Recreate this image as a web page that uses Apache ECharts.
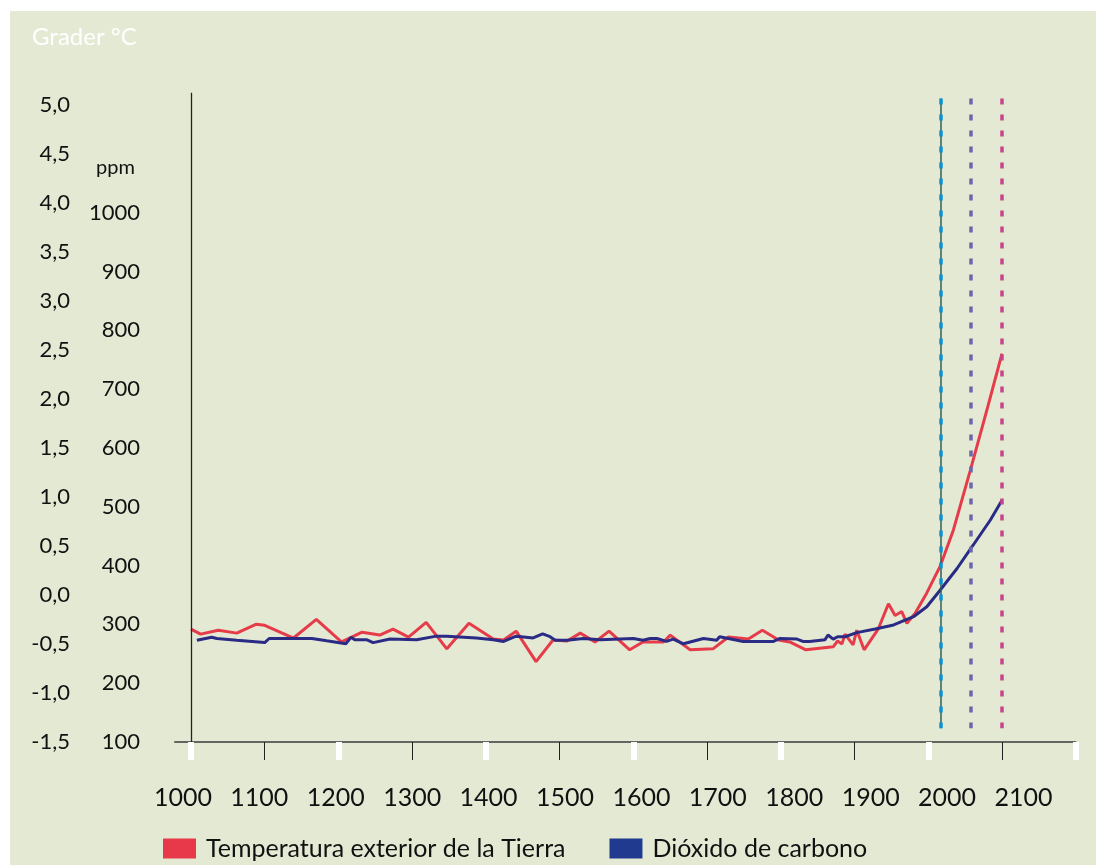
<!DOCTYPE html>
<html>
<head>
<meta charset="utf-8">
<script src="https://cdn.jsdelivr.net/npm/echarts@6/dist/echarts.min.js"></script>
<style>
  html, body { margin:0; padding:0; background:#ffffff; }
  #chart { position:absolute; left:10px; top:11px; width:1086px; height:854px; background:#e4e9d4; }
</style>
</head>
<body>
<div id="chart"></div>
<script>
// ---- data ----
const tempYears = [1000,1013,1037,1062,1088,1100,1139,1170,1204,1218,1232,1256,1274,1295,1319,1347,1377,1410,1424,1441,1468,1491,1510,1528,1548,1567,1595,1613,1641,1650,1677,1708,1729,1756,1775,1797,1812,1834,1871,1877,1883,1887,1898,1903,1913,1932,1946,1955,1964,1971,1982,1998,2016,2034,2057,2079,2100];
const tempValues = [-0.35,-0.40,-0.36,-0.39,-0.30,-0.31,-0.44,-0.25,-0.48,-0.43,-0.38,-0.41,-0.35,-0.43,-0.28,-0.55,-0.29,-0.45,-0.46,-0.37,-0.68,-0.46,-0.47,-0.39,-0.48,-0.37,-0.56,-0.48,-0.48,-0.41,-0.56,-0.55,-0.43,-0.45,-0.36,-0.46,-0.48,-0.56,-0.53,-0.47,-0.50,-0.40,-0.51,-0.36,-0.56,-0.35,-0.09,-0.21,-0.17,-0.29,-0.19,0.02,0.29,0.66,1.27,1.87,2.46];

const co2Years = [1008,1028,1035,1062,1100,1106,1139,1164,1184,1210,1217,1222,1238,1247,1270,1306,1333,1347,1387,1410,1424,1441,1464,1477,1487,1494,1510,1532,1555,1600,1613,1623,1632,1645,1654,1668,1695,1713,1717,1749,1790,1799,1822,1830,1839,1860,1864,1871,1877,1887,1903,1928,1953,1980,1998,2016,2039,2061,2084,2100];
const co2Values = [273,278,276,273,269,276,276,276,272,267,278,274,274,269,275,274,280,280,277,274,271,280,277,284,279,273,273,276,274,276,273,276,276,271,275,267,276,273,279,271,271,276,275,271,271,274,282,275,279,279,286,292,299,313,330,358,395,435,477,511];

const markerYears = [2017, 2058, 2100];          // dashed vertical markers
const blackTickYears = [1100,1300,1500,1700,1900,2100];
const whiteTickYears = [1000,1200,1400,1600,1800,2000,2200];
const labelYears = [1000,1100,1200,1300,1400,1500,1600,1700,1800,1900,2000,2100];
const tempTicks = [-1.5,-1.0,-0.5,0.0,0.5,1.0,1.5,2.0,2.5,3.0,3.5,4.0,4.5,5.0];
const co2Ticks = [100,200,300,400,500,600,700,800,900,1000];
const seriesNames = ['Temperatura exterior de la Tierra', 'Dióxido de carbono'];
const tempLabelTitle = 'Grader °C';
const co2LabelTitle = 'ppm';

// ---- chart ----
const FONT = 'Lato';
const X_MIN = 978, X_MAX = 2200;
const T_MIN = -1.5, T_MAX = 5.12;
const C_MIN = 100, C_MAX = 1204;
const chart = echarts.init(document.getElementById('chart'), null, {renderer:'canvas'});

const tempData = tempYears.map((y, i) => [y, tempValues[i]]);
const co2Data = co2Years.map((y, i) => [y, co2Values[i]]);

const markerColors = ['#0b92d2', '#6c66ad', '#c6448c'];
const markLines = [
  [{coord:[1000, 5.12], lineStyle:{color:'#222', width:1.3, type:'solid'}}, {coord:[1000, -1.5]}],
  [{coord:[markerYears[0], 5.06], lineStyle:{color:'#2f5e58', width:1.5, type:'solid'}}, {coord:[markerYears[0], -1.36]}]
];
markerYears.forEach((yr, i) => {
  markLines.push([
    {coord:[yr, 5.06], lineStyle:{color:markerColors[i], width:3.5, type:[6,10]}},
    {coord:[yr, -1.36]}
  ]);
});

const axisCommon = {
  type:'value', min:X_MIN, max:X_MAX, position:'bottom',
  splitLine:{show:false}, axisLabel:{show:false}
};

chart.setOption({
  animation:false,
  backgroundColor:'#e4e9d4',
  textStyle:{fontFamily:FONT},
  title:[
    {text:tempLabelTitle, left:22, top:14, padding:0,
     textStyle:{color:'#ffffff', fontSize:24, fontWeight:'normal', fontFamily:FONT}},
    {text:co2LabelTitle, left:86, top:147, padding:0,
     textStyle:{color:'#111', fontSize:20, fontWeight:'normal', fontFamily:FONT}}
  ],
  legend:{
    left:148, top:820, itemWidth:33, itemHeight:20, itemGap:44, icon:'rect',
    textStyle:{fontSize:25, color:'#111', fontFamily:FONT, padding:[0,0,0,5]},
    data:[
      {name:seriesNames[0], itemStyle:{color:'#e8394a'}},
      {name:seriesNames[1], itemStyle:{color:'#1f3a8f'}}
    ]
  },
  grid:{left:164.78, top:81.7, width:900.95, height:649.3, containLabel:false},
  xAxis:[
    Object.assign({}, axisCommon, {
      axisLine:{show:true, onZero:false, lineStyle:{color:'#3a3a3a', width:1.5}},
      axisTick:{show:true, customValues:blackTickYears, length:18, lineStyle:{color:'#222', width:1}}
    }),
    Object.assign({}, axisCommon, {
      axisLine:{show:false, onZero:false},
      axisTick:{show:true, customValues:whiteTickYears, length:18, lineStyle:{color:'#ffffff', width:6}}
    }),
    {
      type:'value', min:989.4, max:2168.3, position:'bottom',
      axisLine:{show:false, onZero:false}, axisTick:{show:false}, splitLine:{show:false},
      axisLabel:{show:true, customValues:labelYears, margin:43, fontSize:25, color:'#111', fontFamily:FONT,
                 formatter:v => String(Math.round(v))}
    }
  ],
  yAxis:[
    {type:'value', min:T_MIN, max:T_MAX, position:'left',
     axisLine:{show:false}, axisTick:{show:false}, splitLine:{show:false},
     axisLabel:{customValues:tempTicks, margin:104.8, fontSize:22, color:'#111', fontFamily:FONT,
                formatter:v => v.toFixed(1).replace('.', ',')}},
    {type:'value', min:C_MIN, max:C_MAX, position:'left', offset:0,
     axisLine:{show:false}, axisTick:{show:false}, splitLine:{show:false},
     axisLabel:{customValues:co2Ticks, margin:34.8, fontSize:22, color:'#111', fontFamily:FONT,
                formatter:v => String(Math.round(v))}}
  ],
  series:[
    {name:seriesNames[0], type:'line', xAxisIndex:0, yAxisIndex:0, data:tempData,
     showSymbol:false, symbol:'none', lineStyle:{color:'#e63c4a', width:3}, itemStyle:{color:'#e8394a'},
     z:3,
     markLine:{silent:true, symbol:'none', label:{show:false}, animation:false, data:markLines}},
    {name:seriesNames[1], type:'line', xAxisIndex:0, yAxisIndex:1, data:co2Data,
     showSymbol:false, symbol:'none', lineStyle:{color:'#2a2b85', width:3}, itemStyle:{color:'#1f3a8f'},
     z:4}
  ]
});
</script>
</body>
</html>
